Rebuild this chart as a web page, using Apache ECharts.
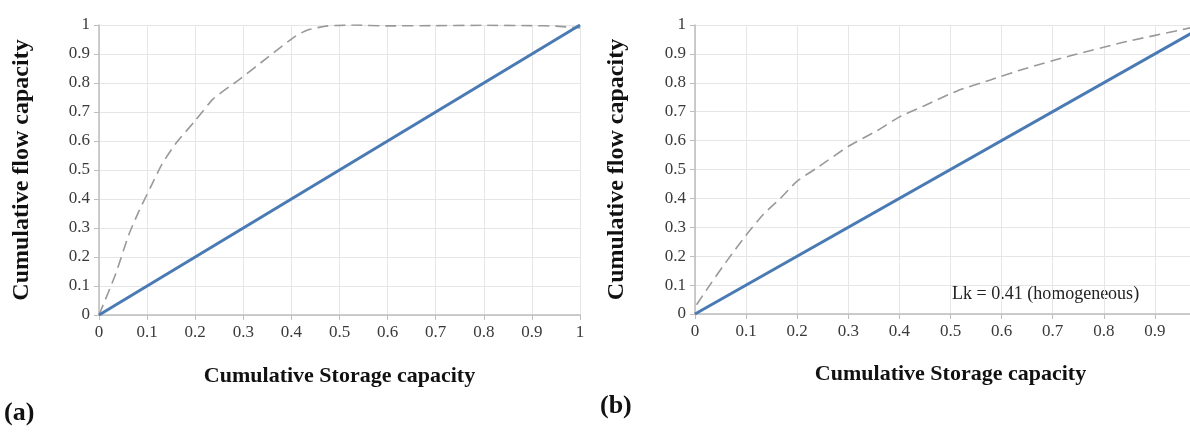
<!DOCTYPE html>
<html><head><meta charset="utf-8">
<script src="https://cdn.jsdelivr.net/npm/echarts@6/dist/echarts.min.js"></script>
<style>html,body{margin:0;padding:0;background:#fff}#c{width:1190px;height:433px}</style>
</head><body><div id="c"></div>
<script>
const xTicks = [0,0.1,0.2,0.3,0.4,0.5,0.6,0.7,0.8,0.9,1];
const aX = [0,0.034,0.062,0.083,0.107,0.131,0.159,0.2,0.238,0.29,0.352,0.407,0.434,0.476,0.531,0.6,0.7,0.8,0.9,0.95,1];
const aY = [0,0.139,0.277,0.358,0.44,0.52,0.59,0.67,0.746,0.81,0.89,0.96,0.983,0.997,1.0,0.997,0.998,0.999,0.998,0.996,0.99];
const bX = [0.003,0.029,0.062,0.101,0.134,0.167,0.2,0.239,0.3,0.356,0.4,0.448,0.513,0.578,0.642,0.74,0.838,0.969];
const bY = [0.032,0.10,0.183,0.275,0.345,0.40,0.46,0.506,0.58,0.634,0.682,0.72,0.772,0.81,0.847,0.896,0.94,0.99];
const diag = [[0,0],[1,1]];
const xTitle = 'Cumulative Storage capacity';
const yTitle = 'Cumulative flow capacity';
const note = 'Lk = 0.41 (homogeneous)';

const serif = '"Liberation Serif","DejaVu Serif",serif';
const pair = (xs, ys) => xs.map((x, i) => [x, ys[i]]);
const labelStyle = {fontFamily: serif, fontSize: 17, color: '#3a3a3a', formatter: v => String(+v.toFixed(2))};
function axis(extra) {
  return Object.assign({
    type: 'value', min: 0, max: 1, interval: 0.1,
    axisLine: {show: true, lineStyle: {color: '#bdbdbd', width: 1.5}},
    axisTick: {show: true, length: 5, lineStyle: {color: '#bdbdbd'}},
    splitLine: {show: true, lineStyle: {color: '#e6e6e6', width: 1}},
    axisLabel: Object.assign({}, labelStyle, {margin: 9}),
    nameLocation: 'middle'
  }, extra);
}
const xName = {fontFamily: serif, fontSize: 22, fontWeight: 'bold', color: '#111'};
const yName = {fontFamily: serif, fontSize: 24, fontWeight: 'bold', color: '#111'};
const chart = echarts.init(document.getElementById('c'));
chart.setOption({
  animation: false,
  grid: [
    {left: 99, top: 25, width: 481, height: 290, outerBoundsMode: 'none', containLabel: false},
    {left: 695, top: 25, width: 511, height: 289, outerBoundsMode: 'none', containLabel: false}
  ],
  xAxis: [
    axis({gridIndex: 0, name: xTitle, nameGap: 50, nameTextStyle: xName}),
    axis({gridIndex: 1, name: xTitle, nameGap: 49, nameTextStyle: xName})
  ],
  yAxis: [
    axis({gridIndex: 0, name: yTitle, nameGap: 65, nameTextStyle: yName}),
    axis({gridIndex: 1, name: yTitle, nameGap: 66, nameTextStyle: yName})
  ],
  series: [
    {type: 'line', xAxisIndex: 0, yAxisIndex: 0, data: pair(aX, aY), smooth: 0.2, showSymbol: false,
      lineStyle: {color: '#999', width: 1.6, type: [11, 6]}},
    {type: 'line', xAxisIndex: 0, yAxisIndex: 0, data: diag, showSymbol: false,
      lineStyle: {color: '#4a7ab4', width: 3}},
    {type: 'line', xAxisIndex: 1, yAxisIndex: 1, data: pair(bX, bY), smooth: 0.2, showSymbol: false,
      lineStyle: {color: '#999', width: 1.6, type: [11, 6]}},
    {type: 'line', xAxisIndex: 1, yAxisIndex: 1, data: diag, showSymbol: false,
      lineStyle: {color: '#4a7ab4', width: 3}}
  ],
  graphic: [
    {type: 'text', left: 4, top: 400, style: {text: '(a)', font: 'bold 26px ' + serif, fill: '#111'}},
    {type: 'text', left: 600, top: 393, style: {text: '(b)', font: 'bold 26px ' + serif, fill: '#111'}},
    {type: 'text', left: 952, top: 285, style: {text: note, font: '18px ' + serif, fill: '#222'}}
  ]
});
</script></body></html>
